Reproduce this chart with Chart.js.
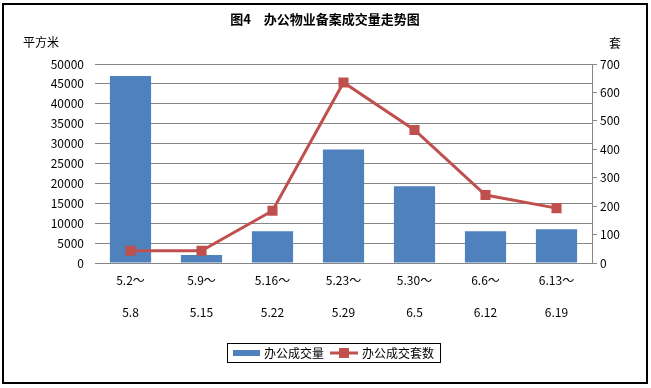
<!DOCTYPE html>
<html>
<head>
<meta charset="utf-8">
<script src="https://cdn.jsdelivr.net/npm/chart.js@4.4.0/dist/chart.umd.min.js"></script>
<style>
html,body{margin:0;padding:0;background:#fff;}
#wrap{position:relative;width:651px;height:388px;}
canvas{display:block;}
</style>
</head>
<body>
<div id="wrap"><canvas id="c" width="651" height="388"></canvas></div>
<script>
// ---- data ----
const chartTitle = "图4　办公物业备案成交量走势图";
const leftUnit = "平方米";
const rightUnit = "套";
const categories = [["5.2～","5.8"],["5.9～","5.15"],["5.16～","5.22"],["5.23～","5.29"],["5.30～","6.5"],["6.6～","6.12"],["6.13～","6.19"]];
const areaLabel = "办公成交量";
const areaValues = [47000, 2000, 8000, 28500, 19300, 8000, 8500];
const unitsLabel = "办公成交套数";
const unitsValues = [43, 43, 184, 635, 468, 239, 193];

const FONT = "SimSun, 'Noto Sans CJK SC', sans-serif";
const BLUE = "#4F81BD", RED = "#C0504D", GRID = "#868686";

const deco = {
  id: "deco",
  afterDraw(chart) {
    const ctx = chart.ctx;
    ctx.save();
    // outer frame
    ctx.strokeStyle = "#000"; ctx.lineWidth = 2;
    ctx.strokeRect(3, 4, 644, 379);
    // title
    ctx.fillStyle = "#000";
    ctx.textAlign = "center"; ctx.textBaseline = "middle";
    ctx.font = "bold 13px " + FONT;
    ctx.fillText(chartTitle, 325, 19);
    // units
    ctx.font = "12px " + FONT;
    ctx.fillText(leftUnit, 41, 42);
    ctx.fillText(rightUnit, 615, 43);
    // legend
    const ds = chart.data.datasets;
    ctx.lineWidth = 1; ctx.strokeStyle = "#000";
    ctx.strokeRect(227.5, 343.5, 213, 19);
    ctx.fillStyle = ds[0].backgroundColor;
    ctx.fillRect(233, 350, 27, 6);
    ctx.fillStyle = "#000"; ctx.textAlign = "left";
    ctx.fillText(ds[0].label, 264, 353);
    ctx.strokeStyle = ds[1].borderColor; ctx.lineWidth = 3;
    ctx.beginPath(); ctx.moveTo(330, 353); ctx.lineTo(358, 353); ctx.stroke();
    ctx.fillStyle = ds[1].pointBackgroundColor;
    ctx.fillRect(339, 348, 10, 10);
    ctx.fillStyle = "#000";
    ctx.fillText(ds[1].label, 362, 353);
    ctx.restore();
  }
};

new Chart(document.getElementById("c"), {
  data: {
    labels: categories,
    datasets: [
      { type: "bar", label: areaLabel, data: areaValues, backgroundColor: BLUE,
        yAxisID: "y", order: 2, categoryPercentage: 1, barPercentage: 0.58 },
      { type: "line", label: unitsLabel, data: unitsValues, borderColor: RED,
        backgroundColor: RED, pointBackgroundColor: RED, pointBorderColor: RED,
        borderWidth: 3, pointStyle: "rect", pointRadius: 5, pointHoverRadius: 5,
        yAxisID: "y1", order: 1, tension: 0 }
    ]
  },
  options: {
    responsive: false, animation: false,
    layout: { padding: { top: 64, left: 0, right: 0, bottom: 0 } },
    plugins: { legend: { display: false }, title: { display: false }, tooltip: { enabled: false } },
    scales: {
      x: {
        grid: { display: false, drawTicks: false },
        border: { display: true, color: GRID, width: 1 },
        ticks: { color: "#000", font: { family: FONT, size: 12, lineHeight: 2.67 }, padding: 1, maxRotation: 0, autoSkip: false },
        afterFit(s) { s.height = 125; }
      },
      y: {
        position: "left", min: 0, max: 50000,
        grid: { color: GRID, lineWidth: 1, drawTicks: false },
        border: { display: false },
        ticks: { stepSize: 5000, color: "#000", font: { family: FONT, size: 12 }, padding: 11,
                 callback: v => String(v) },
        afterFit(s) { s.width = 95; }
      },
      y1: {
        position: "right", min: 0, max: 700,
        grid: { drawOnChartArea: false, color: GRID, drawTicks: true, tickLength: 5 },
        border: { display: true, color: GRID, width: 1 },
        ticks: { stepSize: 100, color: "#000", font: { family: FONT, size: 12 }, padding: 3,
                 callback: v => String(v) },
        afterFit(s) { s.width = 59; }
      }
    }
  },
  plugins: [deco]
});
</script>
</body>
</html>
